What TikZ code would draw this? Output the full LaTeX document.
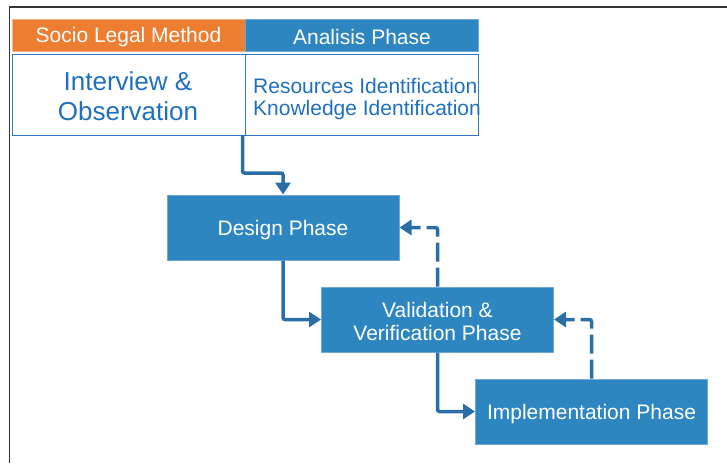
\documentclass[tikz,border=0pt]{standalone}
\usepackage{fontspec}
\setmainfont{Liberation Sans}
\usetikzlibrary{arrows.meta,positioning}
\definecolor{boxblue}{HTML}{2E86C1}
\definecolor{boxedge}{HTML}{6FA8DC}
\definecolor{arrowblue}{HTML}{2B6EA6}
\definecolor{orangehd}{HTML}{ED7D31}
\definecolor{orangeedge}{HTML}{F4B183}
\definecolor{txtblue}{HTML}{1F70BF}
\definecolor{wedge}{HTML}{2E78C4}
\definecolor{framegray}{HTML}{333333}
\tikzset{
  boxtext/.style={text=white, align=center, inner sep=0pt, yshift=-2.2pt, font=\fontsize{21}{23}\selectfont},
  phase/.style={draw=boxedge, line width=1pt, fill=boxblue, minimum width=232pt, minimum height=65pt, inner sep=0pt},
  header/.style={line width=1pt, minimum width=233pt, minimum height=32pt, inner sep=0pt},
  whitebox/.style={draw=wedge, line width=1pt, fill=white, minimum width=233pt, minimum height=81pt, inner sep=0pt},
  flow/.style={draw=arrowblue, line width=3.5pt, rounded corners=2pt, -{Triangle[length=12pt,width=15pt]}},
  back/.style={flow, dash pattern=on 19pt off 6pt},
}
\begin{document}
\begin{tikzpicture}[x=1pt,y=-1pt]
\useasboundingbox (0,0) rectangle (727,463);
% frame
\draw[framegray, line width=1.8pt] (9.5,463) -- (9.5,7) -- (727,7);
% headers
\node[header, fill=orangehd, draw=orangeedge, label={[boxtext]center:Socio Legal Method}] (hsl) at (128.5,35) {};
\node[header, fill=boxblue, draw=boxedge, label={[boxtext]center:Analisis Phase}] (hap) at (362,35) {};
% white boxes
\node[whitebox] (wl) at (128.5,94.5) {};
\node[whitebox] (wr) at (361.5,94.5) {};
\node[text=txtblue, align=center, font=\fontsize{26}{30}\selectfont] (io) at (128,96.5) {Interview \&\\Observation};
\node[text=txtblue, align=left, anchor=west, inner sep=0pt, font=\fontsize{21}{22}\selectfont] (ri) at (253,99) {Resources Identification\\Knowledge Identification};
% phases
\node[phase, label={[boxtext]center:Design Phase}] (des) at (283,227.5) {};
\node[phase, label={[boxtext]center:Validation \&\\Verification Phase}] (val) at (437.5,319.5) {};
\node[phase, label={[boxtext]center:Implementation Phase}] (imp) at (591.5,411.5) {};
% connectors
\coordinate (s0) at (242.5,135);
\draw[flow] (s0) |- (264,173) -| (des.north);
\draw[flow] (des.south) |- (val.west);
\draw[flow] (val.south) |- (imp.west);
\draw[back] (val.north) |- (des.east);
\draw[back] (imp.north) |- (val.east);
\end{tikzpicture}
\end{document}
